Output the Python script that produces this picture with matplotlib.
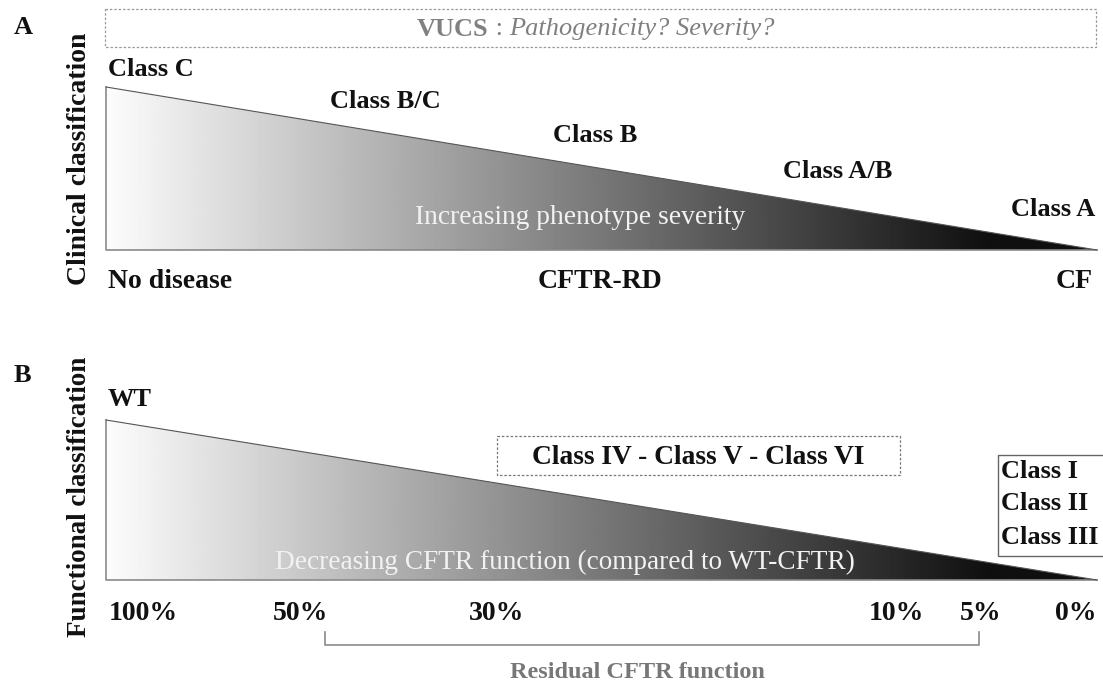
import numpy as np
import matplotlib
matplotlib.use("Agg")
import matplotlib.pyplot as plt
from matplotlib.patches import Polygon, Rectangle

plt.rcParams['font.family'] = ['Liberation Serif', 'DejaVu Serif']

# ---- data ----
panel_letters = ["A", "B"]
axis_titles = ["Clinical classification", "Functional classification"]
clinical_classes = ["Class C", "Class B/C", "Class B", "Class A/B", "Class A"]
clinical_outcomes = ["No disease", "CFTR-RD", "CF"]
vucs_label = "VUCS"
vucs_question = "Pathogenicity? Severity?"
severity_label = "Increasing phenotype severity"
function_top = "WT"
mild_classes = "Class IV - Class V - Class VI"
severe_classes = ["Class I", "Class II", "Class III"]
function_label = "Decreasing CFTR function (compared to WT-CFTR)"
pct_labels = ["100%", "50%", "30%", "10%", "5%", "0%"]
residual_label = "Residual CFTR function"

# ---- layout (pixel coordinates) ----
W, H = 1103, 688
fig = plt.figure(figsize=(W / 100, H / 100), dpi=100)
ax = fig.add_axes([0, 0, 1, 1])
ax.set_xlim(0, W)
ax.set_ylim(H, 0)
ax.axis("off")

x0, x1 = 106, 1097
xs = np.linspace(x0, x1, 800)
grad = np.interp(xs, [x0, 990], [0.99, 0.06]).reshape(1, -1)


def wedge(ytop, ybot):
    img = ax.imshow(grad, cmap="gray", vmin=0, vmax=1, aspect="auto",
                    extent=(x0, x1, ybot, ytop), zorder=1)
    poly = Polygon([(x0, ytop), (x1, ybot), (x0, ybot)], closed=True,
                   facecolor="none", edgecolor="none")
    ax.add_patch(poly)
    img.set_clip_path(poly)
    ax.plot([x0, x0, x1], [ytop, ybot, ybot], color="#8a8a8a", lw=1.2, zorder=2)
    ax.plot([x0, x1], [ytop, ybot], color="#555555", lw=0.8, zorder=2)


bold = dict(fontweight="bold", color="#111111")

# Panel A
ax.text(14, 28, panel_letters[0], fontsize=19, va="center", ha="left", **bold)
ax.text(80, 159, axis_titles[0], fontsize=20, rotation=90, va="center", ha="center", **bold)
ax.add_patch(Rectangle((105, 9), 991, 38, fill=False, ls=(0, (2, 1.5)), lw=0.9,
                       edgecolor="#9a9a9a"))
t1 = ax.text(417, 29, vucs_label, fontsize=19, color="#808080", fontweight="bold",
             va="center", ha="left")
t2 = ax.annotate(" : ", xy=(1, 0.5), xycoords=t1, fontsize=19, color="#808080",
                 va="center", ha="left")
ax.annotate(vucs_question, xy=(1, 0.5), xycoords=t2, fontsize=19, color="#808080",
            style="italic", va="center", ha="left")
wedge(87, 250)
cx = [108, 330, 553, 783, 1095]
cha = ["left", "left", "left", "left", "right"]
cy = [70, 101, 136, 172, 209]
for lab, x, y, h in zip(clinical_classes, cx, cy, cha):
    ax.text(x, y, lab, fontsize=19, va="center", ha=h, **bold)
ax.text(580, 218, severity_label, fontsize=19.8, color="#f2f2f2", va="center", ha="center")
ox = [108, 600, 1093]
oha = ["left", "center", "right"]
for lab, x, h in zip(clinical_outcomes, ox, oha):
    ax.text(x, 282, lab, fontsize=20, va="center", ha=h, **bold)

# Panel B
ax.text(14, 375, panel_letters[1], fontsize=19, va="center", ha="left", **bold)
ax.text(80, 497, axis_titles[1], fontsize=19.5, rotation=90, va="center", ha="center", **bold)
ax.text(108, 400, function_top, fontsize=19, va="center", ha="left", **bold)
wedge(420, 580)
ax.add_patch(Rectangle((497, 436), 403, 39, fill=False, ls=(0, (2, 1.5)), lw=0.9,
                       edgecolor="#777777", zorder=3))
ax.text(698, 457, mild_classes, fontsize=19.8, va="center", ha="center", **bold)
ax.add_patch(Rectangle((998, 455), 110, 101, fill=False, lw=1.0,
                       edgecolor="#666666", zorder=3))
for lab, y in zip(severe_classes, [471, 503, 537]):
    ax.text(1001, y, lab, fontsize=19, va="center", ha="left", **bold)
ax.text(565, 562, function_label, fontsize=19.6, color="#f2f2f2", va="center", ha="center",
        zorder=4)
px = [143, 301, 497, 896, 981, 1076]
for lab, x in zip(pct_labels, px):
    ax.text(x, 613, lab, fontsize=20, va="center", ha="center", **bold)
ax.plot([325, 325, 979, 979], [632, 645, 645, 632], color="#8a8a8a", lw=1.2)
ax.text(637, 672, residual_label, fontsize=17.5, color="#777777", va="center",
        ha="center", fontweight="bold")

fig.savefig("out.png", dpi=100)
